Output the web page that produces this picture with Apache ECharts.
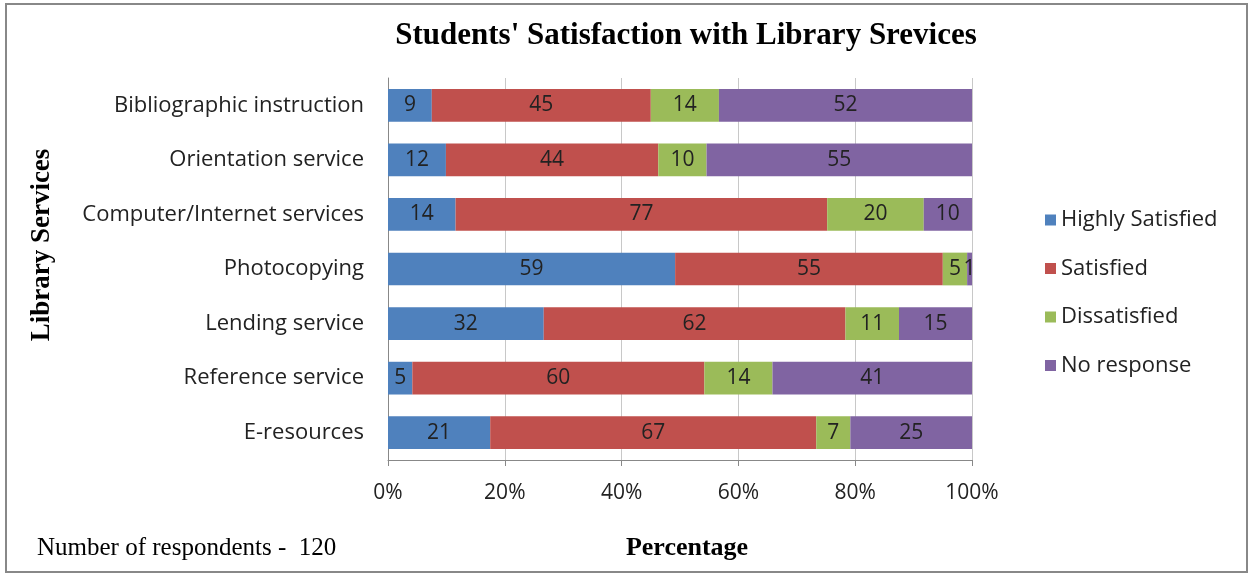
<!DOCTYPE html>
<html>
<head>
<meta charset="utf-8">
<script src="https://cdn.jsdelivr.net/npm/echarts@6/dist/echarts.min.js"></script>
<style>
html,body{margin:0;padding:0;background:#fff;}
#c{width:1254px;height:577px;}
</style>
</head>
<body>
<div id="c"></div>
<script>
const categories = ["Bibliographic instruction","Orientation service","Computer/Internet services","Photocopying","Lending service","Reference service","E-resources"];
const seriesNames = ["Highly Satisfied","Satisfied","Dissatisfied","No response"];
const highlySatisfied = [9,12,14,59,32,5,21];
const satisfied = [45,44,77,55,62,60,67];
const dissatisfied = [14,10,20,5,11,14,7];
const noResponse = [52,55,10,1,15,41,25];
const tickLabels = ["0%","20%","40%","60%","80%","100%"];
const colors = ["#4F81BD","#C0504D","#9BBB59","#8064A2"];

const raw = [highlySatisfied, satisfied, dissatisfied, noResponse];
const totals = categories.map((c,i)=>raw.reduce((s,a)=>s+a[i],0));

const chart = echarts.init(document.getElementById('c'));
const labelFont = "'Open Sans', sans-serif";
chart.setOption({
  animation:false,
  title:{text:"Students' Satisfaction with Library Srevices", left:681, top:15, textAlign:'center',
    textStyle:{fontFamily:"'Liberation Serif', serif", fontWeight:'bold', fontSize:31, color:'#000'}},
  legend:{orient:'vertical', left:1040, top:204, itemGap:26.5, itemWidth:11, itemHeight:11, icon:'rect',
    textStyle:{fontFamily:labelFont, fontSize:22, color:'#222'}, data:seriesNames},
  grid:{left:388, right:282, top:78, bottom:117},
  xAxis:{type:'value', min:0, max:100, interval:20,
    axisLabel:{formatter:(v)=>tickLabels[Math.round(v/20)], fontFamily:labelFont, fontSize:21, color:'#222', margin:23},
    axisLine:{show:true, lineStyle:{color:'#888'}},
    axisTick:{show:true, length:6, inside:false, lineStyle:{color:'#888'}},
    splitLine:{show:true, lineStyle:{color:'#c8c8c8'}}},
  yAxis:{type:'category', data:categories, inverse:true,
    axisLabel:{fontFamily:labelFont, fontSize:22, color:'#222', margin:24},
    axisLine:{show:true, lineStyle:{color:'#888'}},
    axisTick:{show:false}},
  series: raw.map((arr,si)=>({
    name:seriesNames[si], type:'bar', stack:'s', barCategoryGap:'40%',
    itemStyle:{color:colors[si]},
    data: arr.map((v,i)=>({value: v/totals[i]*100, raw:v})),
    label:{show:true, position:'inside', fontFamily:labelFont, fontSize:21, color:'#222',
      formatter:(p)=>String(p.data.raw)}
  })),
  graphic:[
    {type:'rect', shape:{x:6, y:4, width:1241, height:568}, style:{fill:'none', stroke:'#888', lineWidth:2}},
    {type:'text', x:42, y:245, rotation:Math.PI/2, style:{text:'Library Services', x:0, y:0, align:'center', verticalAlign:'middle',
      font:"bold 27px 'Liberation Serif', serif", fill:'#000'}},
    {type:'text', x:37, y:548, style:{text:'Number of respondents -  120', verticalAlign:'middle', font:"25px 'Liberation Serif', serif", fill:'#000'}},
    {type:'text', x:687, y:548, style:{text:'Percentage', align:'center', verticalAlign:'middle', font:"bold 26px 'Liberation Serif', serif", fill:'#000'}}
  ]
});
</script>
</body>
</html>
